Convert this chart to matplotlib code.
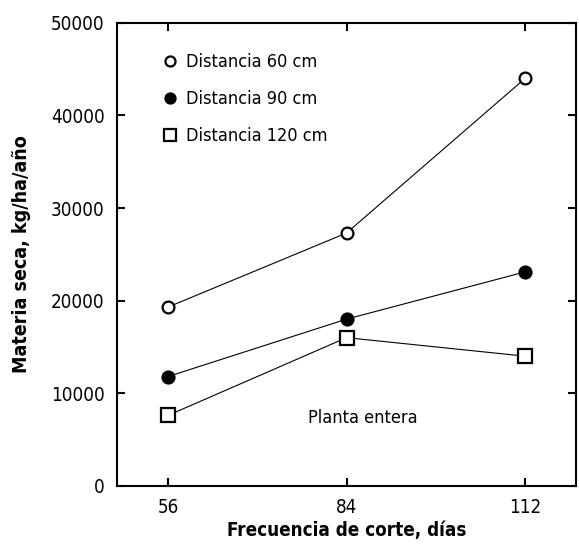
import matplotlib
matplotlib.use('Agg')
import matplotlib.pyplot as plt

dias = [56, 84, 112]
dist_60 = [19300, 27300, 44000]
dist_90 = [11800, 18000, 23100]
dist_120 = [7600, 16000, 14000]
etiquetas = ['Distancia 60 cm', 'Distancia 90 cm', 'Distancia 120 cm']

plt.rcParams['font.family'] = ['DejaVu Sans']
plt.rcParams['font.stretch'] = 'condensed'

fig = plt.figure(figsize=(5.79, 5.44), dpi=100)
ax = fig.add_axes([0.202, 0.107, 0.793, 0.851])

ax.plot(dias, dist_60, '-', color='black', lw=0.8, marker='o', ms=8.5,
        mfc='white', mec='black', mew=1.6, label=etiquetas[0])
ax.plot(dias, dist_90, '-', color='black', lw=0.8, marker='o', ms=9,
        mfc='black', mec='black', mew=1.2, label=etiquetas[1])
ax.plot(dias, dist_120, '-', color='black', lw=0.8, marker='s', ms=9.5,
        mfc='white', mec='black', mew=1.6, label=etiquetas[2])

ax.set_xlim(48, 120)
ax.set_ylim(0, 50000)
ax.set_xticks(dias)
ax.set_yticks([0, 10000, 20000, 30000, 40000, 50000])
ax.tick_params(direction='in', length=6, width=1.5, top=True, right=True,
               labelsize=13.5, pad=9)
for s in ax.spines.values():
    s.set_linewidth(1.5)

ax.set_xlabel('Frecuencia de corte, días', fontsize=13.5, fontweight='bold', labelpad=3)
ax.set_ylabel('Materia seca, kg/ha/año', fontsize=14, fontweight='bold', labelpad=14)

ax.text(78, 7300, 'Planta entera', fontsize=13, va='center', ha='left')

leg = ax.legend(loc='upper left', bbox_to_anchor=(0.08, 0.97), frameon=False,
                fontsize=13, handlelength=0, handletextpad=0.9, labelspacing=1.05,
                markerscale=0.85)
for h in leg.legend_handles:
    h.set_linestyle('')

fig.savefig('out.png', dpi=100)
